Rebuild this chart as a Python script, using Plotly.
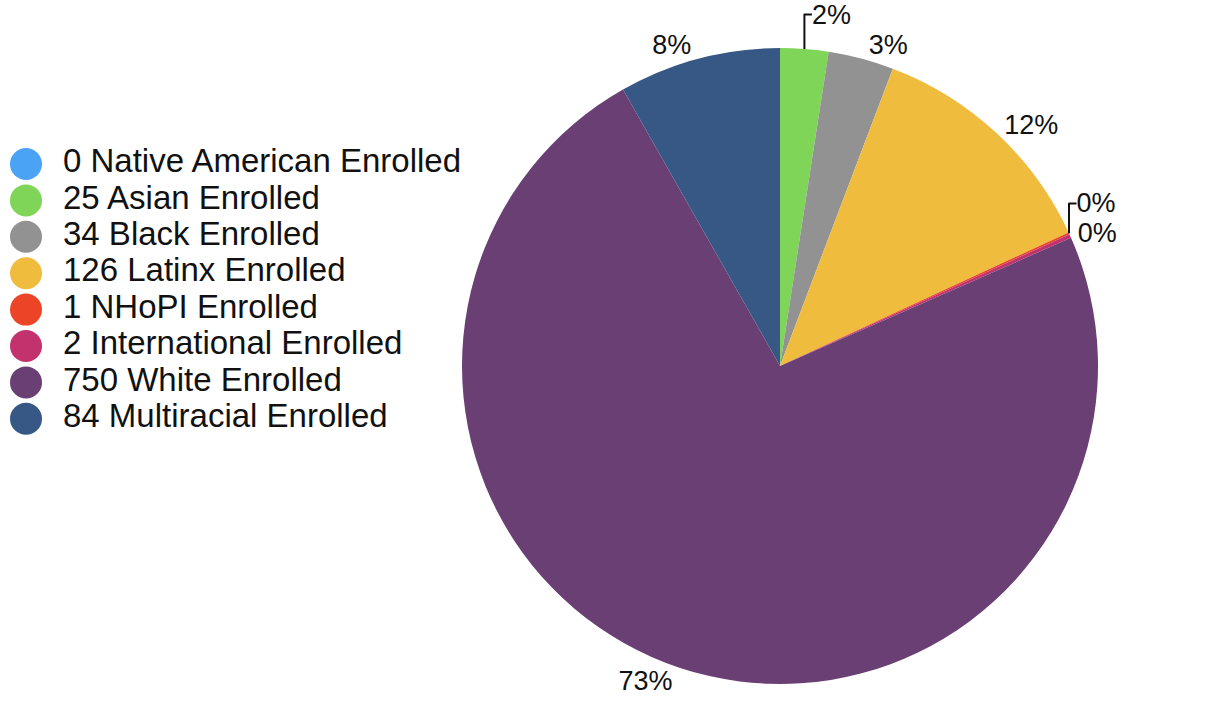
import plotly.graph_objects as go

categories = ["Native American", "Asian", "Black", "Latinx", "NHoPI",
              "International", "White", "Multiracial"]
enrolled = [0, 25, 34, 126, 1, 2, 750, 84]
colors = ["#4BA3F5", "#7ED557", "#929292", "#F0BC3E", "#EB4427",
          "#C2336E", "#6A3F74", "#375885"]
legend_labels = [f"{v} {c} Enrolled" for c, v in zip(categories, enrolled)]
# the zero-value slice carries no percentage label in the reference
slice_text = ["" if v == 0 else "%{percent:.0%}" for v in enrolled]
slice_textpos = ["none" if v == 0 else "outside" for v in enrolled]

FONT = "Liberation Sans, Arial, Helvetica, sans-serif"

fig = go.Figure()

R = 318
CX, CY = 780, 715 - 366
fig.add_trace(go.Pie(
    labels=categories,
    values=enrolled,
    sort=False,
    direction="clockwise",
    rotation=0,
    marker=dict(colors=colors, line=dict(width=0)),
    texttemplate=slice_text,
    textposition=slice_textpos,
    outsidetextfont=dict(size=27, color="#111111", family=FONT),
    showlegend=False,
    automargin=False,
    domain=dict(x=[(CX - R) / 1222, (CX + R) / 1222],
                y=[(CY - R) / 715, (CY + R) / 715]),
))

idx = list(range(len(categories)))
fig.add_trace(go.Scatter(
    x=[0] * len(idx), y=idx, mode="markers",
    marker=dict(size=32, color=colors, line=dict(width=0)),
    showlegend=False, hoverinfo="skip", cliponaxis=False,
))
fig.add_trace(go.Scatter(
    x=[37] * len(idx), y=idx, mode="text",
    text=legend_labels, textposition="middle right",
    textfont=dict(size=33, color="#111111", family=FONT),
    showlegend=False, hoverinfo="skip", cliponaxis=False,
))

row = 36.4
top = 164
fig.update_layout(
    width=1222, height=715,
    margin=dict(l=0, r=0, t=0, b=0, pad=0, autoexpand=False),
    showlegend=False,
    paper_bgcolor="white", plot_bgcolor="white",
    xaxis=dict(domain=[0, 0.4], range=[-26, 0.4 * 1222 - 26],
               visible=False, fixedrange=True),
    yaxis=dict(domain=[0, 1], range=[(715 - top) / row, -top / row],
               visible=False, fixedrange=True),
    font=dict(family=FONT),
)

fig.write_html("out.html")
